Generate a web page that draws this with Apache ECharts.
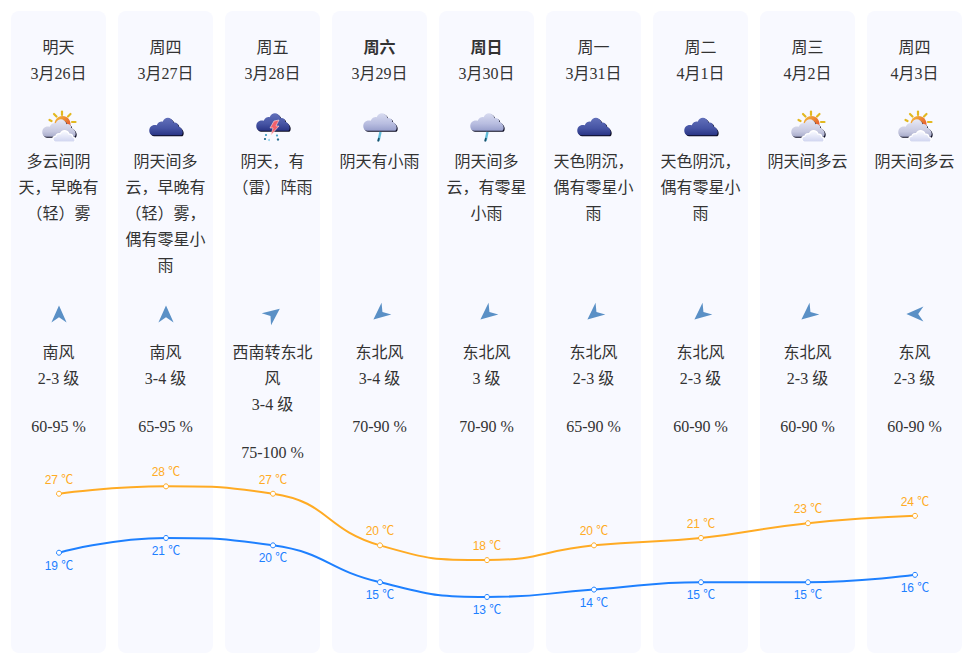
<!DOCTYPE html>
<html><head><meta charset="utf-8">
<style>html,body{margin:0;padding:0;background:#fff}#c{width:971px;height:654px}</style>
<script src="https://cdn.jsdelivr.net/npm/echarts@6/dist/echarts.min.js"></script>
</head><body><div id="c"></div>
<script>
const weekdays=['明天','周四','周五','周六','周日','周一','周二','周三','周四'];
const weekendFlags=[0,0,0,1,1,0,0,0,0];
const dates=['3月26日','3月27日','3月28日','3月29日','3月30日','3月31日','4月1日','4月2日','4月3日'];
const weatherIcons=['partly','overcast','thunder','rain','rain','overcast','overcast','partly','partly'];
const descriptions=['多云间阴\n天，早晚有\n（轻）雾','阴天间多\n云，早晚有\n（轻）雾，\n偶有零星小\n雨','阴天，有\n（雷）阵雨','阴天有小雨','阴天间多\n云，有零星\n小雨','天色阴沉，\n偶有零星小\n雨','天色阴沉，\n偶有零星小\n雨','阴天间多云','阴天间多云'];
const windRotations=[0,0,52,230,230,230,230,230,270];
const windNames=['南风','南风','西南转东北\n风','东北风','东北风','东北风','东北风','东北风','东风'];
const windLevels=['2-3 级','3-4 级','3-4 级','3-4 级','3 级','2-3 级','2-3 级','2-3 级','2-3 级'];
const humidity=['60-95 %','65-95 %','75-100 %','70-90 %','70-90 %','65-90 %','60-90 %','60-90 %','60-90 %'];
const highTemps=[27,28,27,20,18,20,21,23,24];
const lowTemps=[19,21,20,15,13,14,15,15,16];

const FONT='"Liberation Serif","Noto Sans CJK SC",serif';
const LABELFONT='"Liberation Sans","Noto Sans CJK SC",sans-serif';
const CLOUD='M-13,9 C-17,9 -18,3 -15.5,0.5 C-14,-1 -12,-1.5 -9.5,-1 C-8,-4 -5.5,-5 -3.5,-4.5 C-1.5,-9.5 5,-10 7.5,-3.5 C10,-4 12,-2 12,0 C15,1 17.5,5 16,8 C15.5,9 15,9 13,9 Z';
const SMALLCLOUD='M-7,5 C-11,5 -11,0.5 -7.5,0.5 C-7,-1.5 -5,-2 -3.5,-1.5 C-2,-5.5 3,-5 4,-1 C6,-1.5 7,-0.5 7,1 C9.5,1.5 10,5 8,5 Z';
const DARK={type:'linear',x:0,y:0,x2:0,y2:1,colorStops:[{offset:0,color:'#6270ba'},{offset:.6,color:'#4654a4'},{offset:1,color:'#2a3586'}]};
const LIGHT={type:'linear',x:0,y:0,x2:0,y2:1,colorStops:[{offset:0,color:'#d8dbf0'},{offset:.6,color:'#b8bde0'},{offset:1,color:'#989fcc'}]};
const GREY={type:'linear',x:0,y:0,x2:0,y2:1,colorStops:[{offset:0,color:'#e8e9f5'},{offset:.7,color:'#c6c8e0'},{offset:1,color:'#a8abca'}]};
const PALE={type:'linear',x:0,y:0,x2:0,y2:1,colorStops:[{offset:0,color:'#f8f9ff'},{offset:1,color:'#d0d5f0'}]};
const SUN={type:'linear',x:0,y:0,x2:1,y2:1,colorStops:[{offset:0,color:'#f6c33a'},{offset:1,color:'#e0392c'}]};
function cloud(x,y,fill,s){s=s||1;return [
 {type:'path',x:x+1,y:y+1,scaleX:s,scaleY:s,shape:{pathData:CLOUD,x:-18,y:-10,width:36,height:20,layout:'center'},style:{fill:'#0a0a20'}},
 {type:'path',x:x,y:y,scaleX:s,scaleY:s,shape:{pathData:CLOUD,x:-18,y:-10,width:36,height:20,layout:'center'},style:{fill:fill}}];}
function ray(x1,y1,x2,y2,c){return {type:'line',shape:{x1,y1,x2,y2},style:{stroke:c||'#e2b820',lineWidth:2.2,lineCap:'round'}};}
function iconChildren(kind){
 if(kind==='overcast')return cloud(0,-0.5,DARK,0.93);
 if(kind==='thunder'){return cloud(0,-5,DARK,0.93).concat([
  {type:'polygon',shape:{points:[[1,-6],[6,-7],[3,-1],[6,-1],[-2,8],[0,1],[-3,1]]},style:{fill:'#f0606c',stroke:'#fde0e0',lineWidth:.6}},
  {type:'circle',shape:{cx:-7,cy:8,r:1.1},style:{fill:'#49a4c8'}},{type:'circle',shape:{cx:-8,cy:12,r:1.1},style:{fill:'#2a6f90'}},
  {type:'circle',shape:{cx:4,cy:8.5,r:1.1},style:{fill:'#49a4c8'}},{type:'circle',shape:{cx:-4,cy:13,r:1},style:{fill:'#8fd0e8'}},
  {type:'circle',shape:{cx:5,cy:12.5,r:1.2},style:{fill:'#2a6f90'}}]);}
 if(kind==='rain'){return cloud(0,-5,LIGHT,0.93).concat([
  {type:'line',shape:{x1:0.5,y1:5,x2:-1.5,y2:14},style:{stroke:'#62bcd8',lineWidth:2.4}},
  {type:'line',shape:{x1:-1,y1:11,x2:-2,y2:14.5},style:{stroke:'#1c4f68',lineWidth:1.6}}]);}
 // partly cloudy
 return [ray(3,-15.5,3,-12),ray(-5,-13,-2.5,-10.5),ray(11.5,-13,9,-10.5),ray(16.5,-5,13,-5),ray(-9.5,-7,-7.5,-6),
  {type:'circle',shape:{cx:3.5,cy:-3,r:8},style:{fill:SUN}}]
  .concat(cloud(0,1,GREY,0.93))
  .concat([{type:'path',x:5,y:9.5,shape:{pathData:SMALLCLOUD,x:-11,y:-6,width:22,height:11,layout:'center'},style:{fill:'#fff',stroke:'#fff',lineWidth:1.5}},
   {type:'path',x:5,y:9.5,shape:{pathData:SMALLCLOUD,x:-10.5,y:-5.5,width:21,height:11,layout:'center'},style:{fill:PALE}}]);
}
function txt(x,y,text,extra){return {type:'text',x:x,y:y,style:Object.assign({text:text,fill:'#333',font:'16px '+FONT,fontSize:16,fontFamily:FONT,textAlign:'center',textVerticalAlign:'top',lineHeight:26},extra||{})};}
function renderCard(params,api){
 const i=params.dataIndex, px=api.coord([i,0])[0], cx=px-0.5, w=api.size([1,0])[0]-12;
 const windLines=windNames[i].split('\n').length, extra=(windLines-1)*26;
 return {type:'group',children:[
  {type:'rect',shape:{x:cx-w/2,y:11,width:w,height:642,r:8},style:{fill:'#f8f9ff'}},
  txt(cx,34,weekdays[i],{fontWeight:weekendFlags[i]?'bold':'normal'}),
  txt(cx,60,dates[i]),
  {type:'group',x:px,y:127,children:iconChildren(weatherIcons[i])},
  txt(cx,148,descriptions[i]),
  {type:'path',x:px,y:314,rotation:-windRotations[i]*Math.PI/180,shape:{pathData:'M0,-8.6 L7.6,8.4 L0,3.2 L-7.6,8.4 Z',x:-7.6,y:-8.6,width:15.2,height:17,layout:'center'},style:{fill:'#5a90c6'}},
  txt(cx,339,windNames[i]),
  txt(cx,365+extra,windLevels[i]),
  txt(cx,413+extra,humidity[i])
 ]};
}
const chart=echarts.init(document.getElementById('c'),null,{renderer:'svg'});
chart.setOption({
 animation:false,
 grid:{left:5.5,width:963,top:471.6,height:147.5},
 xAxis:{type:'category',data:weekdays,show:false,boundaryGap:true},
 yAxis:{type:'value',min:10,max:30,show:false},
 series:[
  {type:'custom',z:1,silent:true,data:weekdays.map((d,i)=>[i,0]),encode:{x:0,y:1},clip:false,renderItem:renderCard},
  {type:'line',z:3,smooth:true,data:highTemps,symbol:'circle',symbolSize:5,showAllSymbol:true,
   lineStyle:{color:'#ffab24',width:2},itemStyle:{color:'#fff',borderColor:'#ffab24',borderWidth:1},
   label:{show:true,position:'top',distance:5,formatter:p=>p.value+' ℃',fontSize:12,color:'#ffab24',fontFamily:LABELFONT}},
  {type:'line',z:3,smooth:true,data:lowTemps,symbol:'circle',symbolSize:5,showAllSymbol:true,
   lineStyle:{color:'#1e80ff',width:2},itemStyle:{color:'#fff',borderColor:'#1e80ff',borderWidth:1},
   label:{show:true,position:'bottom',distance:4,formatter:p=>p.value+' ℃',fontSize:12,color:'#1e80ff',fontFamily:LABELFONT}}
 ]
});
</script></body></html>
